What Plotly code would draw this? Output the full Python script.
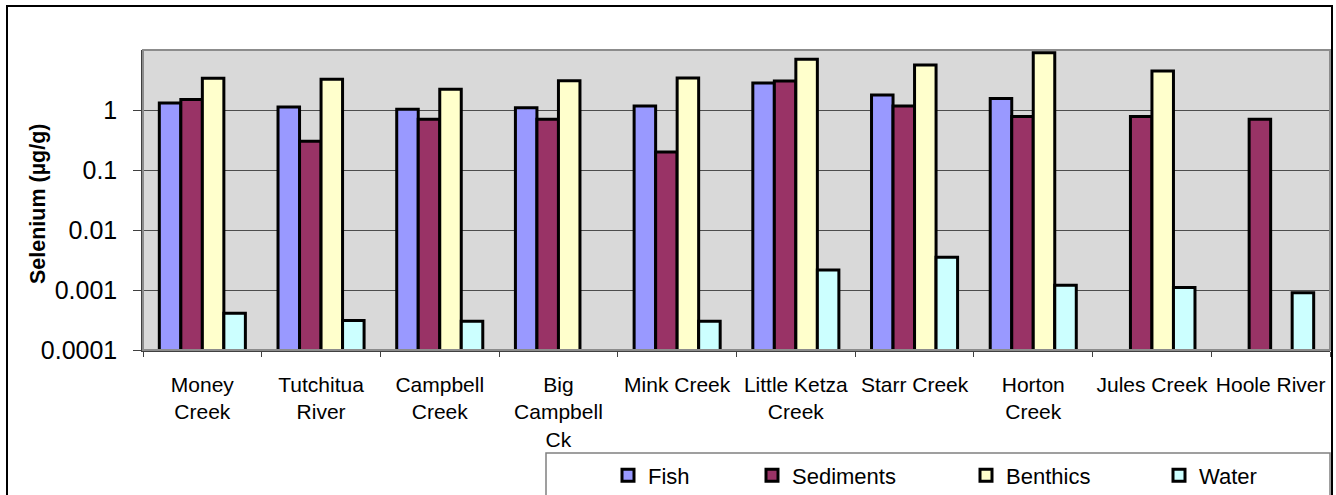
import plotly.graph_objects as go

# Selenium concentrations by site and sample type (µg/g); None = not sampled
sites = ["Money<br>Creek", "Tutchitua<br>River", "Campbell<br>Creek", "Big<br>Campbell<br>Ck",
         "Mink Creek", "Little Ketza<br>Creek", "Starr Creek", "Horton<br>Creek",
         "Jules Creek", "Hoole River"]
fish = [1.31, 1.12, 1.03, 1.09, 1.17, 2.82, 1.78, 1.56, None, None]
sediments = [1.5, 0.30, 0.70, 0.70, 0.20, 3.04, 1.17, 0.78, 0.78, 0.70]
benthics = [3.37, 3.25, 2.21, 3.08, 3.41, 6.99, 5.62, 9.0, 4.47, None]
water = [0.00041, 0.00031, 0.0003, None, 0.0003, 0.00215, 0.0035, 0.0012, 0.0011, 0.0009]

tick_vals = [0.0001, 0.001, 0.01, 0.1, 1]
tick_text = ["0.0001", "0.001", "0.01", "0.1", "1"]

series = [
    ("Fish", fish, "#9999FF", "legend"),
    ("Sediments", sediments, "#993366", "legend2"),
    ("Benthics", benthics, "#FFFFCC", "legend3"),
    ("Water", water, "#CCFFFF", "legend4"),
]

FONT = "Arial, Liberation Sans, sans-serif"

# plot area in pixels
W, H = 1336, 495
L, R, T, B = 143, 1330, 50, 350
PW, PH = R - L, B - T


def px_x(x):
    return (x - L) / PW


def px_y(y):
    return (B - y) / PH


fig = go.Figure()
for name, vals, color, leg in series:
    fig.add_trace(go.Bar(
        name=name, x=sites, y=vals, legend=leg, showlegend=True,
        marker=dict(color=color, line=dict(color="black", width=3)),
    ))

legend_common = dict(
    orientation="h", yanchor="middle", xanchor="left",
    font=dict(family=FONT, size=22, color="black"),
    bgcolor="rgba(0,0,0,0)", borderwidth=0,
)
legend_x = [608, 752, 966, 1159]
legend_y = px_y(475.5)

fig.update_layout(
    width=W, height=H,
    margin=dict(l=L, r=W - R, t=T, b=H - B, autoexpand=False),
    paper_bgcolor="white",
    plot_bgcolor="#D9D9D9",
    showlegend=True,
    barmode="group", bargap=0.275, bargroupgap=0,
    font=dict(family=FONT, color="black"),
    legend=dict(x=px_x(legend_x[0]), y=legend_y, **legend_common),
    legend2=dict(x=px_x(legend_x[1]), y=legend_y, **legend_common),
    legend3=dict(x=px_x(legend_x[2]), y=legend_y, **legend_common),
    legend4=dict(x=px_x(legend_x[3]), y=legend_y, **legend_common),
    xaxis=dict(
        type="category", range=[-0.5, 9.5],
        tickson="boundaries", ticks="outside", ticklen=5, tickwidth=1, tickcolor="#404040",
        showline=True, linecolor="#404040", linewidth=1.5,
        showgrid=False, tickangle=0,
        tickfont=dict(family=FONT, size=21, color="black"),
        ticklabelstandoff=15,
    ),
    yaxis=dict(
        type="log", range=[-4, 1],
        tickvals=tick_vals, ticktext=tick_text,
        ticks="outside", ticklen=8, tickwidth=1, tickcolor="#404040",
        showline=True, linecolor="#404040", linewidth=1.5,
        showgrid=True, gridcolor="#4D4D4D", gridwidth=1,
        tickfont=dict(family=FONT, size=25, color="black"),
        ticklabelstandoff=11,
        zeroline=False,
    ),
    shapes=[
        # plot area frame
        dict(type="rect", xref="paper", yref="paper", x0=0, x1=1, y0=0, y1=1,
             line=dict(color="#8C8C8C", width=2), layer="above"),
        # legend frame
        dict(type="rect", xref="paper", yref="paper",
             x0=px_x(546), x1=px_x(1330), y0=px_y(453), y1=px_y(530),
             line=dict(color="#808080", width=1.5)),
        # chart border
        dict(type="rect", xref="paper", yref="paper",
             x0=px_x(7), x1=px_x(1332), y0=px_y(6), y1=px_y(540),
             line=dict(color="black", width=2)),
    ],
    annotations=[
        dict(text="<b>Selenium (µg/g)</b>", xref="paper", yref="paper",
             x=px_x(38), y=px_y(204), xanchor="center", yanchor="middle",
             textangle=-90, showarrow=False,
             font=dict(family=FONT, size=21.5, color="black")),
    ],
)

fig.write_html("out.html")
